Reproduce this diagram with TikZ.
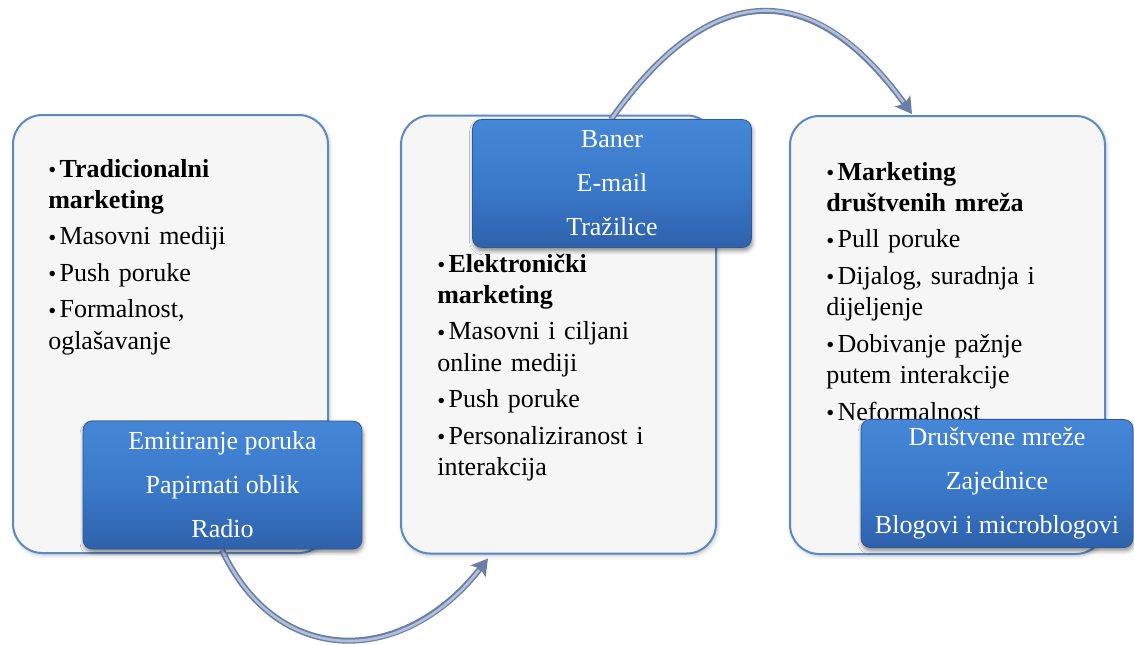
\documentclass[tikz,border=0pt]{standalone}
\usepackage{fontspec}
\setmainfont{Liberation Serif}
\usetikzlibrary{arrows.meta,shadows.blur,calc}
\definecolor{boxline}{HTML}{5A8AC6}
\definecolor{boxfill}{HTML}{F6F6F6}
\definecolor{bluetop}{HTML}{4686D6}
\definecolor{bluemid}{HTML}{3B7ACB}
\definecolor{bluebot}{HTML}{2E61AB}
\definecolor{blueline}{HTML}{2D5A99}
\definecolor{arrdark}{HTML}{6B7FA5}
\definecolor{arrlight}{HTML}{B2C0DB}
\newcommand\bulmark{\makebox[8.5pt][l]{\raisebox{-0.2pt}{\fontsize{17pt}{17pt}\selectfont•}}}
\newcommand\firstitm[1]{\noindent\hangindent=8.5pt\hangafter=1\bulmark#1}
\newcommand\itm[1]{\par\noindent\hangindent=8.5pt\hangafter=1\bulmark#1}
\tikzset{
 whitebox/.style={draw=boxline, line width=1.5pt, fill=boxfill, rounded corners=22pt,
   minimum width=236.25pt, minimum height=328.5pt, inner sep=0pt,
   blur shadow={shadow xshift=1pt, shadow yshift=-1.5pt, shadow blur radius=3pt, shadow opacity=25}},
 bluebox/.style={draw=blueline, line width=0.6pt, top color=bluetop, bottom color=bluebot,
   middle color=bluemid, rounded corners=7pt, minimum width=209.25pt, minimum height=96pt,
   inner sep=0pt, text=white, align=center, font=\fontsize{19.5pt}{33pt}\selectfont,
   execute at begin node={\rule{0pt}{19pt}},
   blur shadow={shadow xshift=0.8pt, shadow yshift=-2.5pt, shadow blur radius=3pt, shadow opacity=45}},
 listtext/.style={anchor=base west, inner sep=0pt, text width=190pt,
   font=\fontsize{19.5pt}{23.6pt}\selectfont},
 flow/.style={line width=4.5pt, draw=arrdark, -{Stealth[length=12pt,width=14pt,inset=2.5pt]}},
 flowhi/.style={line width=2pt, draw=arrlight, shorten >=11pt},
}
\begin{document}
\begin{tikzpicture}[x=0.75pt,y=-0.75pt]
\useasboundingbox (0,0) rectangle (1134,644);
\node[whitebox] (lw) at (170.5,334) {};
\node[whitebox] (mw) at (558.5,334.5) {};
\node[whitebox] (rw) at (947.5,335) {};
\node[listtext] (lt) at (48,177) {\setlength\parskip{3.75pt}\raggedright%
 \firstitm{\textbf{Tradicionalni\\marketing}}\itm{Masovni mediji}\itm{Push poruke}\itm{Formalnost,\\oglašavanje}};
\node[listtext] (mt) at (437,272) {\setlength\parskip{3.75pt}\raggedright%
 \firstitm{\textbf{Elektronički\\marketing}}\itm{Masovni i ciljani\\online mediji}\itm{Push poruke}\itm{Personaliziranost i\\interakcija}};
\node[listtext] (rt) at (826,180) {\setlength\parskip{3.75pt}\raggedright%
 \firstitm{\textbf{Marketing\\društvenih mreža}}\itm{Pull poruke}\itm{Dijalog, suradnja i\\dijeljenje}\itm{Dobivanje pažnje\\putem interakcije}\itm{Neformalnost}};
\coordinate (a1s) at ($(lw.south west)+(210,-4)$);
\coordinate (a1e) at ($(mw.south west)+(88,4)$);
\coordinate (a2s) at ($(mw.north west)+(211,5)$);
\coordinate (a2e) at ($(rw.north west)+(123,-1)$);
\draw[flow] (a1s) .. controls +(55,118) and +(-85,109) .. (a1e);
\draw[flowhi] (a1s) .. controls +(55,118) and +(-85,109) .. (a1e);
\draw[flow] (a2s) .. controls +(100,-141) and +(-100,-138) .. (a2e);
\draw[flowhi] (a2s) .. controls +(100,-141) and +(-100,-138) .. (a2e);
\node[bluebox] (lb) at (222.5,485) {Emitiranje poruka\\Papirnati oblik\\Radio};
\node[bluebox] (mb) at (612,183.5) {Baner\\E-mail\\Tražilice};
\node[bluebox, minimum width=204pt] (rb) at (997,483.5) {Društvene mreže\\Zajednice\\Blogovi i microblogovi};
\end{tikzpicture}
\end{document}
